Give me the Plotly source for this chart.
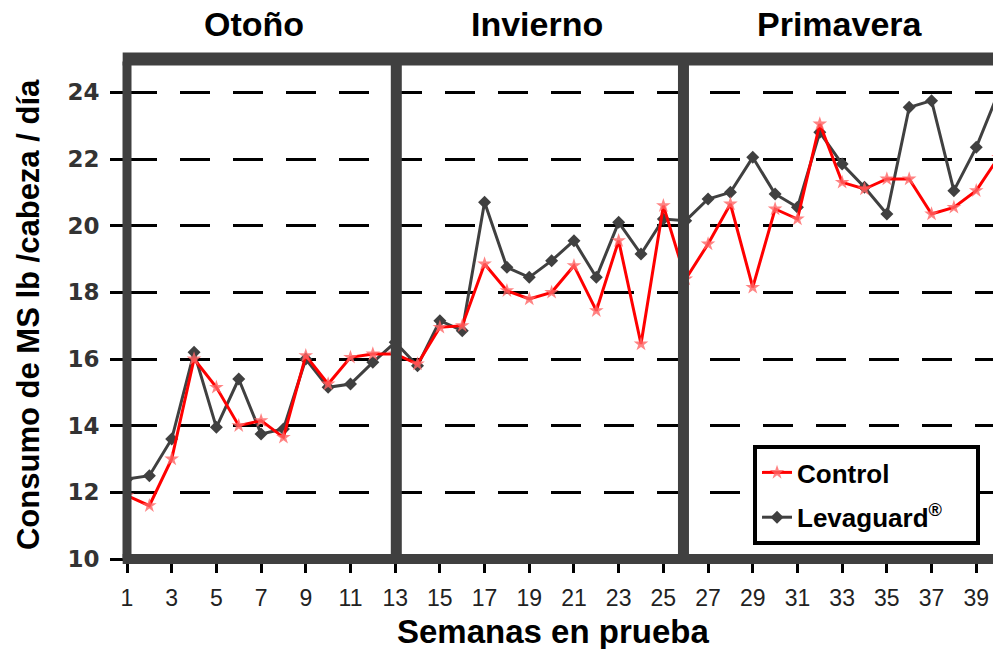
import plotly.graph_objects as go

# ---- data ----
weeks = list(range(1, 41))
control = [11.9, 11.6, 13.0, 16.0, 15.15, 14.0, 14.15, 13.65, 16.1, 15.25,
           16.05, 16.15, 16.15, 15.85, 16.95, 17.0, 18.85, 18.05, 17.8, 18.0,
           18.8, 17.45, 19.55, 16.45, 20.6, 18.4, 19.45, 20.65, 18.15, 20.5,
           20.2, 23.05, 21.3, 21.1, 21.4, 21.4, 20.35, 20.55, 21.05, 22.05]
levaguard = [12.4, 12.5, 13.6, 16.2, 13.95, 15.4, 13.75, 13.9, 16.0, 15.15,
             15.25, 15.9, 16.5, 15.8, 17.15, 16.85, 20.7, 18.75, 18.45, 18.95,
             19.55, 18.45, 20.1, 19.15, 20.2, 20.15, 20.8, 21.0, 22.05, 20.95,
             20.55, 22.8, 21.85, 21.15, 20.35, 23.55, 23.75, 21.05, 22.35, 24.0]
y_ticks = [10, 12, 14, 16, 18, 20, 22, 24]
x_ticks = list(range(1, 40, 2))
season_labels = ["Otoño", "Invierno", "Primavera"]
season_centers = [6.7, 19.35, 32.9]
season_breaks = [13.05, 25.9]

FRAME = "#404040"
BOLD = "Liberation Sans, Arial, sans-serif"
NB = "\u00a0"

fig = go.Figure()
fig.add_trace(go.Scatter(
    x=weeks, y=levaguard, mode="lines+markers", name="Levaguard<sup>®</sup>" + NB * 4,
    legendgroup="b", legendrank=2,
    line=dict(color="#404040", width=3),
    marker=dict(symbol="diamond", size=10, color="#404040")))
fig.add_trace(go.Scatter(
    x=weeks, y=control, mode="lines+markers", name="Control",
    legendgroup="a", legendrank=1,
    line=dict(color="#ff0000", width=3),
    marker=dict(symbol="star", size=11, color="rgba(255,100,100,0.8)", line=dict(width=0))))

shapes = [
    dict(type="line", xref="paper", yref="paper", x0=-0.005, x1=1.0, y0=1, y1=1,
         line=dict(color=FRAME, width=13), layer="above"),
    dict(type="line", xref="paper", yref="paper", x0=0, x1=0, y0=0, y1=0.995,
         line=dict(color=FRAME, width=9), layer="above"),
    dict(type="line", xref="paper", yref="paper", x0=-0.005, x1=1.0, y0=0, y1=0,
         line=dict(color=FRAME, width=10), layer="above"),
]
for b in season_breaks:
    shapes.append(dict(type="line", xref="x", yref="paper", x0=b, x1=b, y0=0, y1=1,
                       line=dict(color=FRAME, width=11), layer="above"))

annotations = []
for lab, c in zip(season_labels, season_centers):
    annotations.append(dict(text=lab, x=c, y=1.07, xref="x", yref="paper",
                            showarrow=False, xanchor="center", yanchor="middle",
                            font=dict(family=BOLD, size=34, color="black", weight="bold")))
annotations.append(dict(text="Semanas en prueba", x=0.492, y=-0.144, xref="paper", yref="paper",
                        showarrow=False, xanchor="center", yanchor="middle",
                        font=dict(family=BOLD, size=33, color="black", weight="bold")))
annotations.append(dict(text="Consumo de MS lb /cabeza / día", x=-0.1143, y=0.488,
                        xref="paper", yref="paper", textangle=-90,
                        showarrow=False, xanchor="center", yanchor="middle",
                        font=dict(family=BOLD, size=31, color="black", weight="bold")))

fig.update_layout(
    width=993, height=649, autosize=False,
    margin=dict(l=127, r=0, t=59, b=90, pad=0),
    plot_bgcolor="white", paper_bgcolor="white",
    shapes=shapes, annotations=annotations,
    showlegend=True,
    legend=dict(x=0.7229, y=0.228, xanchor="left", yanchor="top",
                bgcolor="white", bordercolor="black", borderwidth=4,
                font=dict(family=BOLD, size=26, color="black", weight="bold"),
                traceorder="grouped", tracegroupgap=8, itemwidth=30),
    xaxis=dict(range=[1, 39.75], tickmode="array", tickvals=x_ticks,
               ticktext=[str(v) for v in x_ticks],
               ticks="outside", ticklen=13, tickwidth=3, tickcolor="black",
               showgrid=False, zeroline=False, showline=False, automargin=False,
               ticklabelstandoff=5,
               tickfont=dict(family="Liberation Sans, Arial, sans-serif",
                             size=23, color="#222")),
    yaxis=dict(range=[10, 25], tickmode="array", tickvals=y_ticks,
               ticks="outside", ticklen=16, tickwidth=3, tickcolor="black",
               showgrid=True, gridcolor="black", gridwidth=3, griddash="30px,23px",
               zeroline=False, showline=False, automargin=False,
               ticklabelstandoff=6,
               tickfont=dict(family="DejaVu Sans, Verdana, sans-serif", size=23,
                             color="#333", weight="bold")),
)

fig.write_html("out.html", config={"displayModeBar": False},
               post_script="document.body.style.margin='0';document.body.style.overflow='hidden';")
